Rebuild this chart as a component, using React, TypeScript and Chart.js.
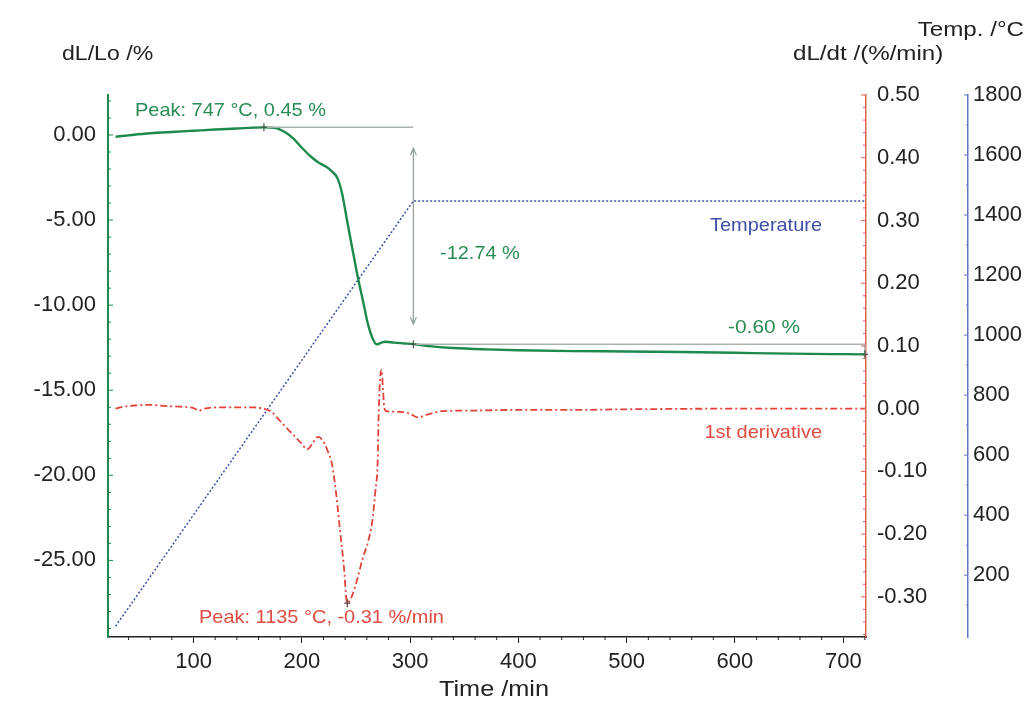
import React, { useEffect, useRef } from "react";
import { Chart, registerables } from "chart.js";

Chart.register(...registerables);

// ---------- data ----------
const dilTime = [28, 40, 60, 80, 100, 120, 140, 155, 165, 175, 185, 192, 200, 208, 215, 222, 228, 233, 237, 242, 247, 252, 257, 261, 265, 269, 273, 277, 285, 295, 303, 320, 340, 370, 400, 450, 500, 550, 600, 650, 700, 720];
const dilValue = [-0.10, -0.02, 0.10, 0.18, 0.25, 0.32, 0.38, 0.43, 0.45, 0.42, 0.15, -0.20, -0.75, -1.25, -1.60, -1.85, -2.15, -2.55, -3.40, -5.10, -6.80, -8.45, -9.90, -11.10, -11.90, -12.30, -12.22, -12.15, -12.20, -12.25, -12.29, -12.42, -12.52, -12.60, -12.65, -12.70, -12.72, -12.75, -12.80, -12.85, -12.88, -12.89];

const derTime = [28, 35, 45, 60, 75, 90, 100, 105, 110, 125, 140, 155, 165, 172, 180, 190, 199, 205, 210, 215, 219, 224, 228, 232, 235, 238.5, 242, 246, 251, 256, 261, 265, 268, 270, 271, 272, 273.5, 275, 276, 278, 290, 300, 307, 315, 330, 360, 400, 450, 500, 600, 720];
const derValue = [0.000, 0.003, 0.005, 0.006, 0.004, 0.003, 0.001, -0.003, 0.000, 0.002, 0.002, 0.002, 0.000, -0.005, -0.020, -0.038, -0.054, -0.065, -0.055, -0.045, -0.050, -0.068, -0.090, -0.140, -0.190, -0.245, -0.310, -0.300, -0.273, -0.240, -0.213, -0.180, -0.130, -0.086, -0.006, 0.040, 0.062, 0.030, 0.003, -0.004, -0.005, -0.008, -0.014, -0.010, -0.004, -0.003, -0.002, -0.002, -0.001, 0.000, 0.000];

const tempTime = [28, 303, 720];
const tempValue = [30, 1447, 1447];

const xTicks = [100, 200, 300, 400, 500, 600, 700];
const dilTicks = [0, -5, -10, -15, -20, -25];
const derTicks = [0.5, 0.4, 0.3, 0.2, 0.1, 0, -0.1, -0.2, -0.3];
const tempTicks = [200, 400, 600, 800, 1000, 1200, 1400, 1600, 1800];

// annotation values
const peakDil = { t: 165, v: 0.45 };
const stepDil = { t: 303, v: -12.29 };
const endDil = { t: 720, v: -12.89 };
const peakDer = { t: 242, v: -0.31 };

const GREEN = "#1c8a4c";
const GREEN_TXT = "#2a8c55";
const RED = "#e2433a";
const RED_AXIS = "#e0605a";
const RED_TXT = "#e04c42";
const BLUE = "#3e4fa6";
const BLUE_AXIS = "#6576c2";
const GRAY = "#a9b3ad";
const DARK = "#222";
const FONT = "'Liberation Sans', Arial, sans-serif";

function drawText(ctx: any, text: string, x: number, y: number, size: number, color: string, align: string, sx = 1) {
  ctx.save();
  ctx.font = `${size}px ${FONT}`;
  ctx.fillStyle = color;
  ctx.textBaseline = "alphabetic";
  const w = ctx.measureText(text).width * sx;
  let left = x;
  if (align === "center") left = x - w / 2;
  if (align === "right") left = x - w;
  ctx.translate(left, y);
  ctx.scale(sx, 1);
  ctx.textAlign = "left";
  ctx.fillText(text, 0, 0);
  ctx.restore();
}

const annotPlugin = {
  id: "annot",
  afterDatasetsDraw(chart: any) {
    const ctx = chart.ctx;
    const x = chart.scales.x;
    const y = chart.scales.y;
    const y1 = chart.scales.y1;
    const X = (v: number) => x.getPixelForValue(v);
    const Y = (v: number) => y.getPixelForValue(v);
    ctx.save();
    // gray reference lines
    ctx.strokeStyle = GRAY;
    ctx.lineWidth = 1.5;
    ctx.beginPath();
    ctx.moveTo(X(peakDil.t), Y(peakDil.v));
    ctx.lineTo(X(stepDil.t), Y(peakDil.v));
    ctx.moveTo(X(stepDil.t), Y(stepDil.v));
    ctx.lineTo(X(endDil.t), Y(stepDil.v));
    ctx.lineTo(X(endDil.t), Y(endDil.v));
    ctx.stroke();
    // vertical double arrow
    const ax = X(stepDil.t);
    const ayTop = Y(peakDil.v) + 21;
    const ayBot = Y(stepDil.v) - 20;
    ctx.strokeStyle = "#8f9e95";
    ctx.lineWidth = 1.2;
    ctx.beginPath();
    ctx.moveTo(ax, ayTop);
    ctx.lineTo(ax, ayBot);
    ctx.moveTo(ax - 3, ayTop + 7);
    ctx.lineTo(ax, ayTop);
    ctx.lineTo(ax + 3, ayTop + 7);
    ctx.moveTo(ax - 3, ayBot - 7);
    ctx.lineTo(ax, ayBot);
    ctx.lineTo(ax + 3, ayBot - 7);
    ctx.stroke();
    // markers
    const cross = (px: number, py: number, col: string) => {
      ctx.strokeStyle = col;
      ctx.lineWidth = 1.2;
      ctx.beginPath();
      ctx.moveTo(px, py - 4);
      ctx.lineTo(px, py + 4);
      ctx.moveTo(px - 3, py);
      ctx.lineTo(px + 3, py);
      ctx.stroke();
    };
    cross(X(peakDil.t), Y(peakDil.v), "#3a5a45");
    cross(X(stepDil.t), Y(stepDil.v), "#3a5a45");
    cross(X(endDil.t), Y(endDil.v), "#3a5a45");
    cross(X(peakDer.t), y1.getPixelForValue(peakDer.v), "#5a3a3a");
    ctx.restore();
    // texts
    drawText(ctx, "Peak: 747 °C, 0.45 %", 135, 116, 19, GREEN_TXT, "left", 1.05);
    drawText(ctx, "-12.74 %", 440, 259, 19, GREEN_TXT, "left", 1.05);
    drawText(ctx, "-0.60 %", 764, 333, 19, GREEN_TXT, "center", 1.1);
    drawText(ctx, "Temperature", 822, 231, 19, BLUE, "right", 1.05);
    drawText(ctx, "1st derivative", 822, 438, 19, RED_TXT, "right", 1.05);
    drawText(ctx, "Peak: 1135 °C, -0.31 %/min", 199, 623, 19, RED_TXT, "left", 1.05);
  },
  afterDraw(chart: any) {
    const ctx = chart.ctx;
    const { x, y, y1, y2 } = chart.scales;
    // axis titles
    drawText(ctx, "dL/Lo /%", 62, 60, 21, DARK, "left", 1.1);
    drawText(ctx, "dL/dt /(%/min)", 793, 60, 21, DARK, "left", 1.15);
    drawText(ctx, "Temp. /°C", 1024, 36, 21, DARK, "right", 1.15);
    drawText(ctx, "Time /min", 494, 696, 22, DARK, "center", 1.15);
    ctx.save();
    ctx.lineWidth = 1;
    // x axis minor ticks
    ctx.strokeStyle = DARK;
    ctx.beginPath();
    for (let v = 40; v <= 720; v += 20) {
      if (v % 100 === 0) continue;
      const px = x.getPixelForValue(v);
      ctx.moveTo(px, x.top);
      ctx.lineTo(px, x.top + 3);
    }
    ctx.stroke();
    // green axis ticks
    ctx.strokeStyle = GREEN;
    ctx.beginPath();
    for (let v = -29; v <= 2; v += 1) {
      const py = y.getPixelForValue(v);
      const len = v % 5 === 0 ? 5 : 3;
      ctx.moveTo(y.right, py);
      ctx.lineTo(y.right + len, py);
    }
    ctx.stroke();
    // red axis ticks
    ctx.strokeStyle = RED_AXIS;
    ctx.beginPath();
    for (let i = -18; i <= 25; i++) {
      const py = y1.getPixelForValue(i * 0.02);
      const len = i % 5 === 0 ? 5 : 3;
      ctx.moveTo(y1.left, py);
      ctx.lineTo(y1.left - len, py);
    }
    ctx.stroke();
    // blue axis ticks
    ctx.strokeStyle = BLUE_AXIS;
    ctx.beginPath();
    for (let v = 100; v <= 1800; v += 100) {
      const py = y2.getPixelForValue(v);
      const len = v % 200 === 0 ? 4 : 2;
      ctx.moveTo(y2.left, py);
      ctx.lineTo(y2.left - len, py);
    }
    ctx.stroke();
    ctx.restore();
  },
};

export default function App() {
  const ref = useRef<HTMLCanvasElement>(null);
  useEffect(() => {
    if (!ref.current) return;
    Chart.defaults.font.family = FONT;
    const chart = new Chart(ref.current, {
      type: "line",
      data: {
        datasets: [
          {
            label: "dL/Lo",
            data: dilTime.map((t, i) => ({ x: t, y: dilValue[i] })),
            borderColor: GREEN,
            borderWidth: 2.4,
            pointRadius: 0,
            yAxisID: "y",
            cubicInterpolationMode: "monotone",
          },
          {
            label: "1st derivative",
            data: derTime.map((t, i) => ({ x: t, y: derValue[i] })),
            borderColor: RED,
            borderWidth: 1.8,
            borderDash: [7, 3, 2, 3],
            pointRadius: 0,
            yAxisID: "y1",
            cubicInterpolationMode: "monotone",
          },
          {
            label: "Temperature",
            data: tempTime.map((t, i) => ({ x: t, y: tempValue[i] })),
            borderColor: BLUE,
            borderWidth: 1.5,
            borderDash: [2, 2],
            pointRadius: 0,
            yAxisID: "y2",
          },
        ],
      },
      options: {
        animation: false,
        responsive: true,
        maintainAspectRatio: false,
        layout: { padding: { top: 95, left: 0, right: 0, bottom: 0 } },
        plugins: { legend: { display: false }, tooltip: { enabled: false } },
        scales: {
          x: {
            type: "linear",
            position: "bottom",
            min: 21,
            max: 721,
            afterBuildTicks: (s: any) => {
              s.ticks = xTicks.map((v) => ({ value: v }));
            },
            afterFit: (s: any) => {
              s.height = 69;
            },
            border: { color: DARK, width: 1.5 },
            grid: { drawOnChartArea: false, drawTicks: true, tickLength: 6, color: DARK },
            ticks: { color: DARK, font: { size: 22 }, padding: 6, maxRotation: 0 },
          },
          y: {
            type: "linear",
            position: "left",
            min: -29.5,
            max: 2.35,
            afterBuildTicks: (s: any) => {
              s.ticks = dilTicks.map((v) => ({ value: v }));
            },
            afterFit: (s: any) => {
              s.width = 108;
            },
            border: { color: GREEN, width: 2 },
            grid: { display: false, drawTicks: false },
            ticks: { color: DARK, font: { size: 22 }, padding: 12, callback: (v: any) => Number(v).toFixed(2) },
          },
          y1: {
            type: "linear",
            position: "right",
            min: -0.364,
            max: 0.5,
            weight: 0,
            afterBuildTicks: (s: any) => {
              s.ticks = derTicks.map((v) => ({ value: v }));
            },
            afterFit: (s: any) => {
              s.width = 102;
            },
            border: { color: RED_AXIS, width: 1.5 },
            grid: { display: false, drawTicks: false },
            ticks: { color: DARK, font: { size: 22 }, padding: 11, callback: (v: any) => Number(v).toFixed(2) },
          },
          y2: {
            type: "linear",
            position: "right",
            min: -6,
            max: 1800,
            weight: 1,
            afterBuildTicks: (s: any) => {
              s.ticks = tempTicks.map((v) => ({ value: v }));
            },
            afterFit: (s: any) => {
              s.width = 62;
            },
            border: { color: BLUE_AXIS, width: 1.5 },
            grid: { display: false, drawTicks: false },
            ticks: { color: DARK, font: { size: 22 }, padding: 5, callback: (v: any) => String(v) },
          },
        },
      },
      plugins: [annotPlugin],
    });
    return () => chart.destroy();
  }, []);
  return (
    <div style={{ position: "fixed", left: 0, top: 0, width: 1030, height: 706, background: "#fff" }}>
      <canvas ref={ref} />
    </div>
  );
}
